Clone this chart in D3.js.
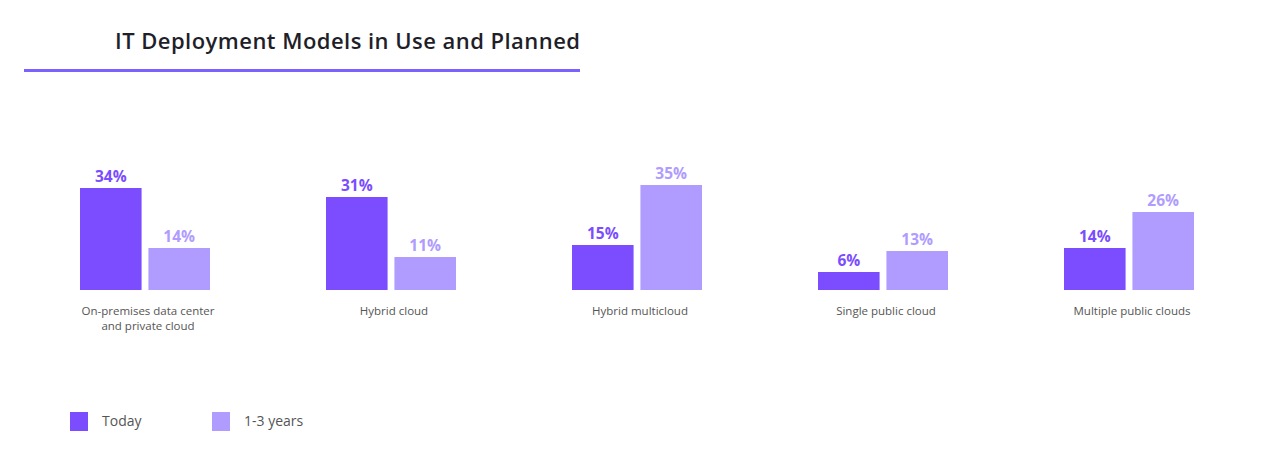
<!DOCTYPE html>
<html>
<head>
<meta charset="utf-8">
<script src="https://cdn.jsdelivr.net/npm/d3@7"></script>
<style>
  html, body { margin: 0; padding: 0; background: #fff; }
  svg { display: block; font-family: "Open Sans", "DejaVu Sans", sans-serif; }
</style>
</head>
<body>
<svg id="chart" width="1280" height="463"></svg>
<script>
const categories = [
  ["On-premises data center", "and private cloud"],
  ["Hybrid cloud"],
  ["Hybrid multicloud"],
  ["Single public cloud"],
  ["Multiple public clouds"]
];
const seriesNames = ["Today", "1-3 years"];
const today = [34, 31, 15, 6, 14];
const planned = [14, 11, 35, 13, 26];
const colors = ["#7b4dff", "#b09cff"];

const svg = d3.select("#chart");
const baseY = 290;

// title + underline
svg.append("text")
  .attr("x", 580).attr("y", 49)
  .attr("text-anchor", "end")
  .attr("font-size", 22).attr("font-weight", 600)
  .attr("fill", "#1f1f2a")
  .attr("textLength", 465)
  .text("IT Deployment Models in Use and Planned");
svg.append("rect")
  .attr("x", 24).attr("y", 69).attr("width", 556).attr("height", 3)
  .attr("fill", "#7b61ff");

const keys = categories.map((c, i) => i);
const x0 = d3.scaleBand().domain(keys).range([25, 1255]);
const x1 = d3.scaleBand().domain([0, 1]).range([0, 130]).paddingInner(0.1);
const y = d3.scaleLinear().domain([0, 10]).range([baseY, baseY - 30]);

const groups = svg.selectAll("g.grp")
  .data(keys)
  .join("g")
  .attr("class", "grp")
  .attr("transform", d => `translate(${x0(d) + x0.bandwidth() / 2 - 68},0)`);

const series = [today, planned];
groups.each(function (k) {
  const g = d3.select(this);
  const vals = series.map((s, si) => ({ si, v: s[k] }));
  g.selectAll("rect")
    .data(vals)
    .join("rect")
    .attr("x", d => x1(d.si))
    .attr("y", d => y(d.v))
    .attr("width", x1.bandwidth())
    .attr("height", d => baseY - y(d.v))
    .attr("fill", d => colors[d.si]);
  g.selectAll("text.val")
    .data(vals)
    .join("text")
    .attr("class", "val")
    .attr("x", d => x1(d.si) + x1.bandwidth() / 2)
    .attr("y", d => y(d.v) - 6)
    .attr("text-anchor", "middle")
    .attr("font-size", 15.5).attr("font-weight", 700)
    .attr("fill", d => colors[d.si])
    .text(d => d.v + "%");
  const lab = g.append("text")
    .attr("x", 68)
    .attr("y", 315)
    .attr("text-anchor", "middle")
    .attr("font-size", 11.5)
    .attr("fill", "#555");
  categories[k].forEach((line, li) => {
    lab.append("tspan").attr("x", 68).attr("dy", li === 0 ? 0 : 15).text(line);
  });
});

// legend
const legend = svg.selectAll("g.leg")
  .data(seriesNames)
  .join("g")
  .attr("class", "leg")
  .attr("transform", (d, i) => `translate(${70 + i * 142},412)`);
legend.append("rect")
  .attr("width", 18).attr("height", 19)
  .attr("fill", (d, i) => colors[i]);
legend.append("text")
  .attr("x", 32).attr("y", 14)
  .attr("font-size", 14)
  .attr("fill", "#555")
  .text(d => d);
</script>
</body>
</html>
